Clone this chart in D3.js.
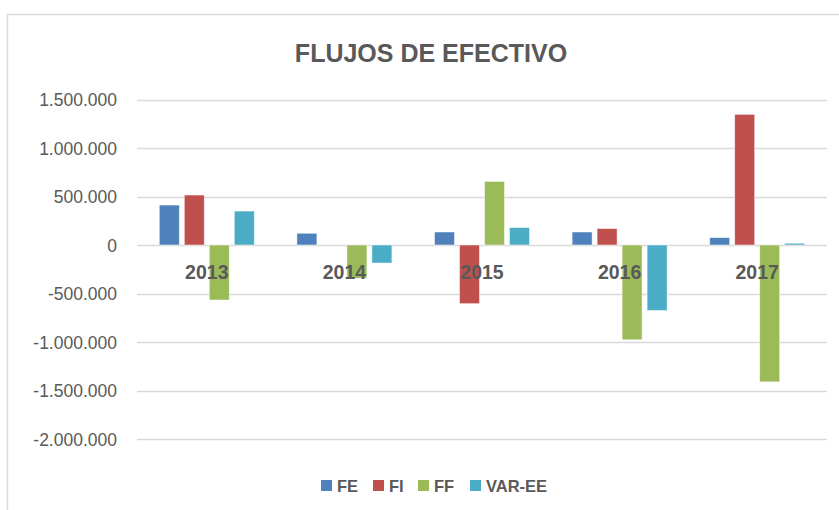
<!DOCTYPE html>
<html>
<head>
<meta charset="utf-8">
<script src="https://cdn.jsdelivr.net/npm/d3@7"></script>
<style>
  html, body { margin: 0; padding: 0; background: #fff; }
  svg { display: block; font-family: "Liberation Sans", Arial, sans-serif; }
</style>
</head>
<body>
<svg id="chart" width="839" height="510"></svg>
<script>
// ---- data ----
const years = ["2013", "2014", "2015", "2016", "2017"];
const seriesNames = ["FE", "FI", "FF", "VAR-EE"];
const FE = [412000, 121000, 134000, 134000, 76000];
const FI = [515000, 0, -605000, 170000, 1347000];
const FF = [-567000, -344000, 655000, -977000, -1411000];
const VAR_EE = [350000, -186000, 180000, -675000, 18000];
const yTicks = [1500000, 1000000, 500000, 0, -500000, -1000000, -1500000, -2000000];
const title = "FLUJOS DE EFECTIVO";

const seriesValues = [FE, FI, FF, VAR_EE];
const colors = ["#4F81BD", "#C0504D", "#9BBB59", "#4BACC6"];

const svg = d3.select("#chart");

// chart frame
svg.append("rect")
  .attr("x", 7.5).attr("y", 14.5)
  .attr("width", 900).attr("height", 600)
  .attr("fill", "#fff").attr("stroke", "#d9d9d9").attr("stroke-width", 1.5);

const plot = { left: 138, right: 826, top: 99.5, bottom: 439 };

const x0 = d3.scaleBand().domain(years).range([plot.left, plot.right]).padding(0);
const x1 = d3.scaleBand().domain(seriesNames).range([0, x0.bandwidth()])
  .paddingInner(0.2).paddingOuter(0.852);
const y = d3.scaleLinear().domain([-2000000, 1500000]).range([plot.bottom, plot.top]);

const fmt = v => {
  const s = d3.format(",")(v).replace(/,/g, ".").replace("−", "-");
  return s;
};

// gridlines + y labels via axis
const yAxis = d3.axisLeft(y).tickValues(yTicks).tickSize(0).tickPadding(0).tickFormat(fmt);
const gy = svg.append("g").attr("transform", `translate(117,0)`).call(yAxis);
gy.select(".domain").remove();
gy.selectAll("text")
  .attr("fill", "#595959")
  .attr("font-size", "17.5px")
  .attr("dy", "0.36em")
  .attr("x", 0);

svg.append("g").selectAll("line").data(yTicks).join("line")
  .attr("x1", plot.left - 1).attr("x2", plot.right + 1)
  .attr("y1", d => Math.round(y(d)) + 0.5).attr("y2", d => Math.round(y(d)) + 0.5)
  .attr("stroke", "#d9d9d9").attr("stroke-width", 1.3);

// bars
const gBars = svg.append("g");
seriesNames.forEach((name, si) => {
  gBars.append("g").selectAll("rect").data(seriesValues[si]).join("rect")
    .attr("x", (d, i) => x0(years[i]) + x1(name))
    .attr("width", x1.bandwidth())
    .attr("y", d => y(Math.max(0, d)))
    .attr("height", d => Math.abs(y(d) - y(0)))
    .attr("fill", colors[si])
    .attr("stroke", "#ffffff").attr("stroke-width", 0.8)
    .attr("stroke-opacity", d => d === 0 ? 0 : 0.6);
});

// category labels
svg.append("g").selectAll("text").data(years).join("text")
  .attr("x", d => x0(d) + x0.bandwidth() / 2)
  .attr("y", 279)
  .attr("text-anchor", "middle")
  .attr("font-size", "19.5px")
  .attr("font-weight", "bold")
  .attr("fill", "#595959")
  .text(d => d);

// title
svg.append("text")
  .attr("x", 431).attr("y", 62)
  .attr("text-anchor", "middle")
  .attr("font-size", "25px")
  .attr("font-weight", "bold")
  .attr("fill", "#595959")
  .text(title);

// legend
const legendX = [321, 373, 418, 470];
const lg = svg.append("g");
seriesNames.forEach((name, i) => {
  lg.append("rect")
    .attr("x", legendX[i]).attr("y", 480)
    .attr("width", 11).attr("height", 11)
    .attr("fill", colors[i]);
  lg.append("text")
    .attr("x", legendX[i] + 16).attr("y", 491.5)
    .attr("font-size", "16.5px")
    .attr("font-weight", "bold")
    .attr("fill", "#595959")
    .text(name);
});
</script>
</body>
</html>
